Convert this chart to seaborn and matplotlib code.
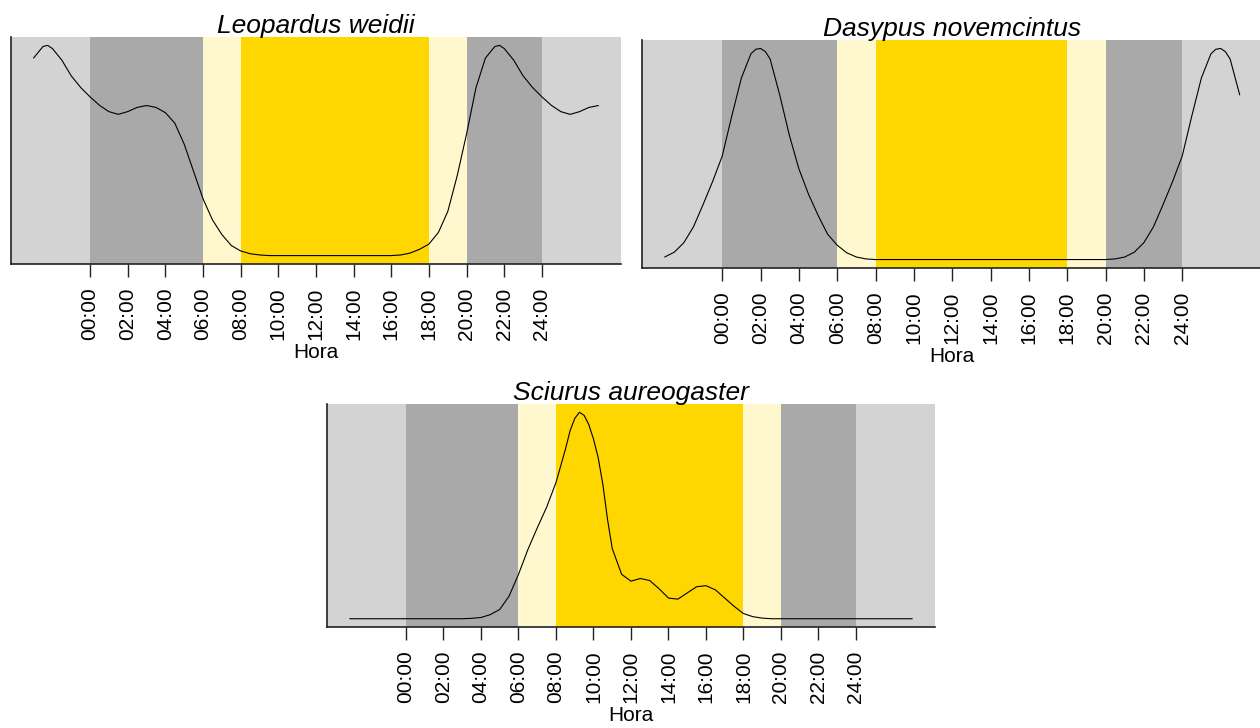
import numpy as np
import pandas as pd
import matplotlib
matplotlib.use("Agg")
from matplotlib import pyplot as plt
import seaborn as sns

# densidad relativa de actividad (0-1), horas 0-24
leo_horas = [0, 0.5, 1, 1.5, 2, 2.5, 3, 3.5, 4, 4.5, 5, 5.5, 6, 6.5, 7, 7.5, 8, 8.5, 9, 9.5,
             12, 16, 16.5, 17, 17.5, 18, 18.5, 19, 19.5, 20, 20.5, 21, 21.5, 21.75, 22, 22.5, 23, 23.5]
leo_dens = [0.755, 0.715, 0.685, 0.672, 0.685, 0.705, 0.714, 0.705, 0.68, 0.63, 0.53, 0.40, 0.27,
            0.17, 0.10, 0.048, 0.022, 0.009, 0.003, 0.0, 0.0, 0.0, 0.003, 0.012, 0.03, 0.055, 0.11,
            0.21, 0.38, 0.58, 0.80, 0.94, 0.995, 1.0, 0.985, 0.93, 0.855, 0.80]

das_horas = [0, 0.5, 1, 1.5, 1.75, 2, 2.25, 2.5, 3, 3.5, 4, 4.5, 5, 5.5, 6, 6.5, 7, 7.5, 8, 14, 20,
             20.5, 21, 21.5, 22, 22.5, 23, 23.5]
das_dens = [0.49, 0.68, 0.86, 0.975, 0.996, 1.0, 0.985, 0.95, 0.78, 0.59, 0.43, 0.31, 0.21, 0.12,
            0.068, 0.032, 0.012, 0.003, 0.0, 0.0, 0.0, 0.003, 0.012, 0.035, 0.08, 0.155, 0.26, 0.37]

sci_horas = [0, 3, 3.5, 4, 4.5, 5, 5.5, 6, 6.5, 7, 7.5, 8, 8.5, 8.75, 9, 9.25, 9.5, 9.75, 10,
             10.25, 10.5, 10.75, 11, 11.5, 12, 12.5, 13, 13.5, 14, 14.5, 15, 15.5, 16, 16.5, 17,
             17.5, 18, 18.5, 19, 19.5, 21, 23.5]
sci_dens = [0.0, 0.0, 0.002, 0.006, 0.02, 0.045, 0.11, 0.215, 0.335, 0.44, 0.54, 0.66, 0.82, 0.91,
            0.97, 1.0, 0.985, 0.94, 0.87, 0.78, 0.65, 0.48, 0.34, 0.215, 0.182, 0.195, 0.185, 0.145,
            0.10, 0.095, 0.125, 0.155, 0.16, 0.14, 0.10, 0.06, 0.025, 0.01, 0.003, 0.0, 0.0, 0.0]

especies = ["Leopardus weidii", "Dasypus novemcintus", "Sciurus aureogaster"]
datos = [(leo_horas, leo_dens), (das_horas, das_dens), (sci_horas, sci_dens)]

# franjas del dia: (inicio, fin, color)
franjas = [(-4.2, 0, "#D3D3D3"), (0, 6, "#A9A9A9"), (6, 8, "#FFF8CF"), (8, 18, "#FFD700"),
           (18, 20, "#FFF8CF"), (20, 24, "#A9A9A9"), (24, 28.2, "#D3D3D3")]
ticks_horas = list(range(0, 25, 2))
tick_labels = [f"{h:02d}:00" for h in ticks_horas]

sns.set_style("white")
plt.rcParams["font.family"] = ["Liberation Sans", "DejaVu Sans"]

fig = plt.figure(figsize=(12.6, 7.28), dpi=100)
posiciones = [[0.00873, 0.63736, 0.48413, 0.31181],
              [0.50929, 0.63187, 0.49286, 0.31319],
              [0.25972, 0.13874, 0.48214, 0.30632]]


def circular(horas, dens):
    # la densidad es circular: se repiten 3 h a cada lado como en el original
    h = np.array(horas, dtype=float)
    d = np.array(dens, dtype=float)
    x = np.concatenate([h[h >= 21] - 24, h, h[h <= 3] + 24])
    y = np.concatenate([d[h >= 21], d, d[h <= 3]])
    return pd.DataFrame({"hora": x, "densidad": y})


for nombre, (horas, dens), pos in zip(especies, datos, posiciones):
    ax = fig.add_axes(pos)
    for ini, fin, col in franjas:
        ax.axvspan(ini, fin, color=col, lw=0, zorder=0)
    df = circular(horas, dens)
    sns.lineplot(data=df, x="hora", y="densidad", ax=ax, color="black", linewidth=0.8,
                 estimator=None, sort=False, zorder=3)
    rango = df.densidad.max() - df.densidad.min()
    ax.set_ylim(df.densidad.min() - 0.04 * rango, df.densidad.max() + 0.04 * rango)
    ax.set_xlim(-4.2, 28.2)
    ax.set_yticks([])
    ax.set_ylabel("")
    ax.set_xticks(ticks_horas)
    ax.set_xticklabels(tick_labels, rotation=90)
    ax.tick_params(axis="x", length=9, width=1, pad=8, labelsize=15, colors="#222222",
                   labelcolor="black", bottom=True)
    for lado in ["top", "right"]:
        ax.spines[lado].set_visible(False)
    for lado in ["left", "bottom"]:
        ax.spines[lado].set_color("#222222")
        ax.spines[lado].set_linewidth(1.2)
    ax.set_title(nombre, fontstyle="italic", fontsize=19, pad=3, color="black")
    ax.set_xlabel("Hora", fontsize=15, labelpad=2, color="black")

fig.savefig("out.png", dpi=100)
